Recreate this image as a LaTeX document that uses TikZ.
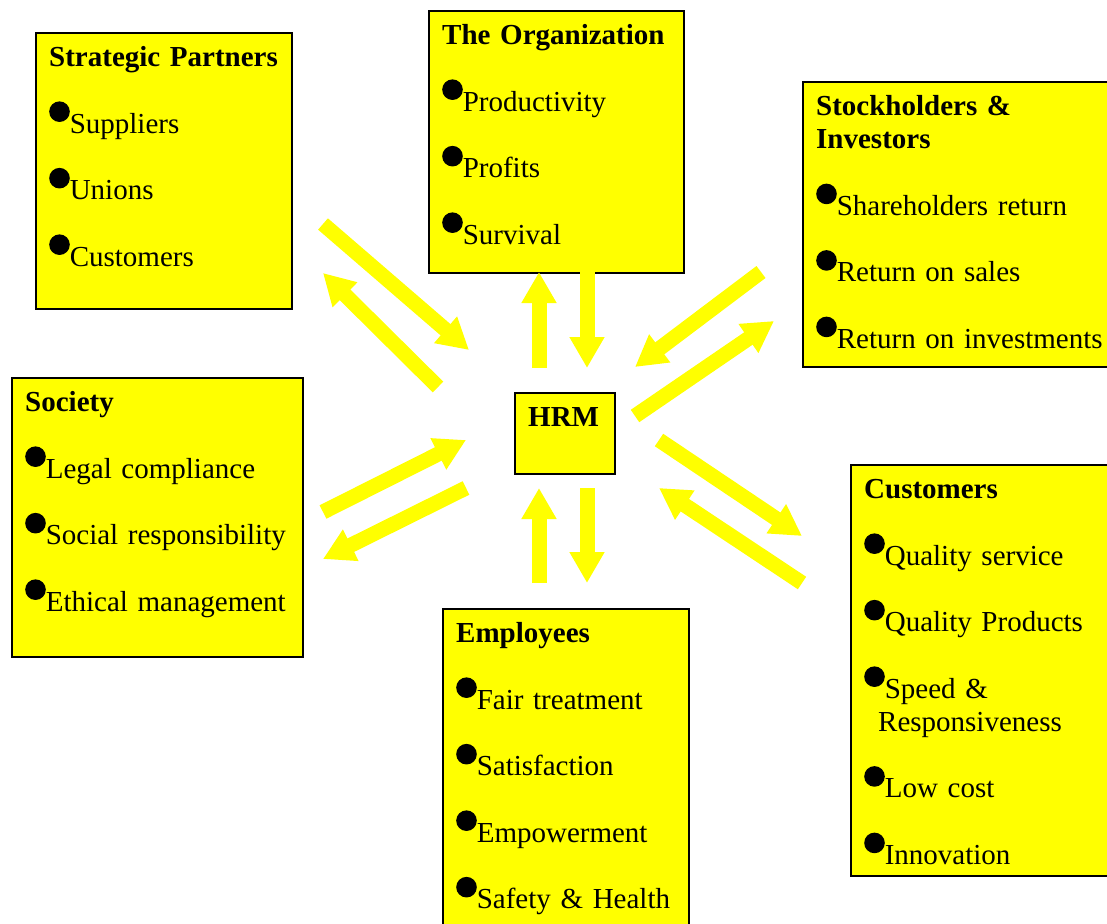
\documentclass[tikz,border=0pt]{standalone}
\usepackage{fontspec}
\setmainfont{Liberation Serif}
\usepackage{tikz}
\usetikzlibrary{arrows.meta}

\definecolor{cardyellow}{RGB}{255,255,0}
\newcommand{\bul}{\smash{\tikz[baseline=0pt]\fill (10.3pt,21.5pt) circle (10.3pt);}}
\newcommand{\gap}{\\[33.25pt]}

\begin{document}
\begin{tikzpicture}[
  x=1pt, y=-1pt,
  card/.style={draw=black, line width=2.4pt, fill=cardyellow, anchor=north west, inner sep=0pt},
  cardtext/.style={anchor=north west, inner sep=0pt, text width=300pt, align=left,
    font=\fontsize{29pt}{33.25pt}\selectfont, xshift=14pt, yshift=-11.2pt},
  flow/.style={draw=cardyellow, line width=15pt, -{Triangle[length=31pt,width=33pt]}}
]
  \useasboundingbox (0,0) rectangle (1107,923);

  % boxes
  \node[card, minimum width=256pt, minimum height=276pt] (partners) at (35,32)  {};
  \node[card, minimum width=255pt, minimum height=262pt] (org)      at (428,10) {};
  \node[card, minimum width=312pt, minimum height=285pt] (stock)    at (802,81) {};
  \node[card, minimum width=291pt, minimum height=279pt] (society)  at (11,377) {};
  \node[card, minimum width=100pt, minimum height=81pt]  (hrm)      at (514,392) {};
  \node[card, minimum width=265pt, minimum height=411pt] (cust)     at (850,464) {};
  \node[card, minimum width=246pt, minimum height=332pt] (emp)      at (442,608) {};

  % box texts
  \node[cardtext] (partners-txt) at (partners.north west)
    {\strut\textbf{Strategic Partners}\gap \bul Suppliers\gap \bul Unions\gap \bul Customers};
  \node[cardtext] (org-txt) at (org.north west)
    {\strut\textbf{The Organization}\gap \bul Productivity\gap \bul Profits\gap \bul Survival};
  \node[cardtext] (stock-txt) at (stock.north west)
    {\strut\textbf{Stockholders \&}\\ \textbf{Investors}\gap \bul Shareholders return\gap
     \bul Return on sales\gap \bul Return on investments};
  \node[cardtext] (society-txt) at (society.north west)
    {\strut\textbf{Society}\gap \bul Legal compliance\gap \bul Social responsibility\gap
     \bul Ethical management};
  \node[cardtext] (hrm-txt) at (hrm.north west) {\strut\textbf{HRM}};
  \node[cardtext] (cust-txt) at (cust.north west)
    {\strut\textbf{Customers}\gap \bul Quality service\gap \bul Quality Products\gap
     \bul Speed \&\\ \hspace*{14pt}Responsiveness\gap \bul Low cost\gap \bul Innovation};
  \node[cardtext] (emp-txt) at (emp.north west)
    {\strut\textbf{Employees}\gap \bul Fair treatment\gap \bul Satisfaction\gap
     \bul Empowerment\gap \bul Safety \& Health};

  % arrow ends
  \coordinate (sp-out)     at (323,224); \coordinate (hrm-nw-in)  at (469,350);
  \coordinate (hrm-nw-out) at (438,387); \coordinate (sp-in)      at (323,273);
  \coordinate (hrm-n-out)  at (539,368); \coordinate (org-in)     at (539,272);
  \coordinate (org-out)    at (587,272); \coordinate (hrm-n-in)   at (587,368);
  \coordinate (stock-out)  at (761,272); \coordinate (hrm-ne-in)  at (635,367);
  \coordinate (hrm-ne-out) at (635,416); \coordinate (stock-in)   at (774,321);
  \coordinate (hrm-se-out) at (659,440); \coordinate (cust-in)    at (802,536);
  \coordinate (cust-out)   at (802,583); \coordinate (hrm-se-in)  at (659,488);
  \coordinate (emp-out)    at (539,583); \coordinate (hrm-s-in)   at (539,488);
  \coordinate (hrm-s-out)  at (587,488); \coordinate (emp-in)     at (587,583);
  \coordinate (soc-out)    at (323,512); \coordinate (hrm-w-in)   at (466,440);
  \coordinate (hrm-w-out)  at (466,488); \coordinate (soc-in)     at (323,559);

  \draw[flow] (sp-out) -- (hrm-nw-in);
  \draw[flow] (hrm-nw-out) -- (sp-in);
  \draw[flow] (hrm-n-out) -- (org-in);
  \draw[flow] (org-out) -- (hrm-n-in);
  \draw[flow] (stock-out) -- (hrm-ne-in);
  \draw[flow] (hrm-ne-out) -- (stock-in);
  \draw[flow] (hrm-se-out) -- (cust-in);
  \draw[flow] (cust-out) -- (hrm-se-in);
  \draw[flow] (emp-out) -- (hrm-s-in);
  \draw[flow] (hrm-s-out) -- (emp-in);
  \draw[flow] (soc-out) -- (hrm-w-in);
  \draw[flow] (hrm-w-out) -- (soc-in);
\end{tikzpicture}
\end{document}
